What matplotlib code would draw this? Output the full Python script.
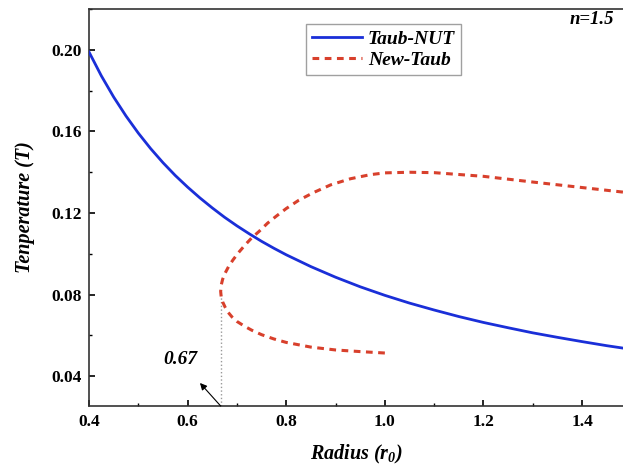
import matplotlib
matplotlib.use("Agg")
import matplotlib.pyplot as plt
from matplotlib.ticker import MultipleLocator

plt.rcParams['font.family'] = ['Liberation Serif', 'DejaVu Serif']
plt.rcParams['mathtext.fontset'] = 'custom'
plt.rcParams['mathtext.rm'] = 'Liberation Serif:bold:italic'
plt.rcParams['mathtext.it'] = 'Liberation Serif:bold:italic'
plt.rcParams['mathtext.default'] = 'regular'

# Taub-NUT (solid blue)
taub_r = [0.400, 0.425, 0.450, 0.475, 0.500, 0.525, 0.550, 0.575, 0.600, 0.625,
          0.650, 0.675, 0.700, 0.725, 0.750, 0.775, 0.800, 0.850, 0.900, 0.950,
          1.000, 1.050, 1.100, 1.150, 1.200, 1.250, 1.300, 1.350, 1.400, 1.450, 1.500]
taub_T = [0.1990, 0.1873, 0.1769, 0.1676, 0.1592, 0.1516, 0.1447, 0.1384, 0.1327,
          0.1274, 0.1225, 0.1179, 0.1137, 0.1098, 0.1061, 0.1027, 0.0995, 0.0937,
          0.0885, 0.0838, 0.0796, 0.0758, 0.0724, 0.0692, 0.0663, 0.0637, 0.0612,
          0.0590, 0.0569, 0.0549, 0.0531]

# New-Taub (dashed red), ordered along the curve
new_r = [1.000, 0.950, 0.900, 0.850, 0.800, 0.775, 0.750, 0.730, 0.715, 0.700,
         0.690, 0.682, 0.676, 0.671, 0.668, 0.667, 0.668, 0.671, 0.676, 0.683,
         0.692, 0.703, 0.716, 0.730, 0.745, 0.762, 0.780, 0.800, 0.825, 0.855,
         0.890, 0.930, 0.970, 1.000, 1.050, 1.100, 1.200, 1.300, 1.400, 1.500]
new_T = [0.0513, 0.0520, 0.0528, 0.0542, 0.0565, 0.0582, 0.0603, 0.0625, 0.0645,
         0.0668, 0.0690, 0.0713, 0.0738, 0.0764, 0.0790, 0.0815, 0.0845, 0.0875,
         0.0905, 0.0937, 0.0970, 0.1005, 0.1042, 0.1078, 0.1110, 0.1150, 0.1185,
         0.1222, 0.1262, 0.1300, 0.1338, 0.1368, 0.1388, 0.1397, 0.1400, 0.1398,
         0.1380, 0.1352, 0.1325, 0.1298]

x_ticks = [0.4, 0.6, 0.8, 1.0, 1.2, 1.4]
y_ticks = [0.04, 0.08, 0.12, 0.16, 0.20]

fig = plt.figure(figsize=(6.23, 4.67), dpi=100)
ax = fig.add_axes([0.1429, 0.1306, 0.8571, 0.8501])

ax.plot(taub_r, taub_T, color='#1a2fd8', lw=2.0, label='Taub-NUT', zorder=3)
ax.plot(new_r, new_T, color='#d8402c', lw=2.2, ls=(0, (2.2, 1.8)), label='New-Taub', zorder=3)

ax.set_xlim(0.4, 1.483)
ax.set_ylim(0.0253, 0.2201)

ax.set_xticks(x_ticks)
ax.set_yticks(y_ticks)
ax.set_xticklabels([f"{v:.1f}" for v in x_ticks], fontsize=12.5, fontweight='bold')
ax.set_yticklabels([f"{v:.2f}" for v in y_ticks], fontsize=12.5, fontweight='bold')
ax.xaxis.set_minor_locator(MultipleLocator(0.1))
ax.yaxis.set_minor_locator(MultipleLocator(0.02))
ax.tick_params(which='major', direction='in', length=4, width=1.2, pad=6)
ax.tick_params(which='minor', direction='in', length=2.5, width=1.0)
ax.tick_params(axis='y', which='major', pad=5)

for s in ['left', 'bottom', 'top']:
    ax.spines[s].set_linewidth(1.2)
    ax.spines[s].set_color('#333333')
ax.spines['right'].set_visible(False)

ax.set_xlabel('Radius (r$_0$)', fontsize=14.5, fontweight='bold', fontstyle='italic', labelpad=9)
ax.set_ylabel('Tenperature (T)', fontsize=14.5, fontweight='bold', fontstyle='italic', labelpad=12)

# annotation
ax.plot([0.667, 0.667], [0.0253, 0.080], color='#999999', lw=1.0, ls=':', zorder=2)
ax.annotate('', xy=(0.625, 0.0366), xytext=(0.667, 0.0253),
            arrowprops=dict(arrowstyle='-|>', color='black', lw=0.8,
                            mutation_scale=10, shrinkA=0, shrinkB=0))
ax.text(0.585, 0.0483, '0.67', fontsize=14, fontweight='bold', fontstyle='italic',
        ha='center', va='center')
ax.text(1.42, 0.2150, 'n=1.5', fontsize=13.5, fontweight='bold', fontstyle='italic',
        ha='center', va='center')

leg = ax.legend(loc='upper left', bbox_to_anchor=(0.406, 0.962), frameon=True,
                fancybox=False, edgecolor='#888888', handlelength=2.6,
                borderaxespad=0, borderpad=0.3, labelspacing=0.2, handletextpad=0.3,
                prop={'family': 'Liberation Serif', 'weight': 'bold', 'style': 'italic', 'size': 14})
leg.get_frame().set_linewidth(1.0)

fig.savefig('out.png', dpi=100)
